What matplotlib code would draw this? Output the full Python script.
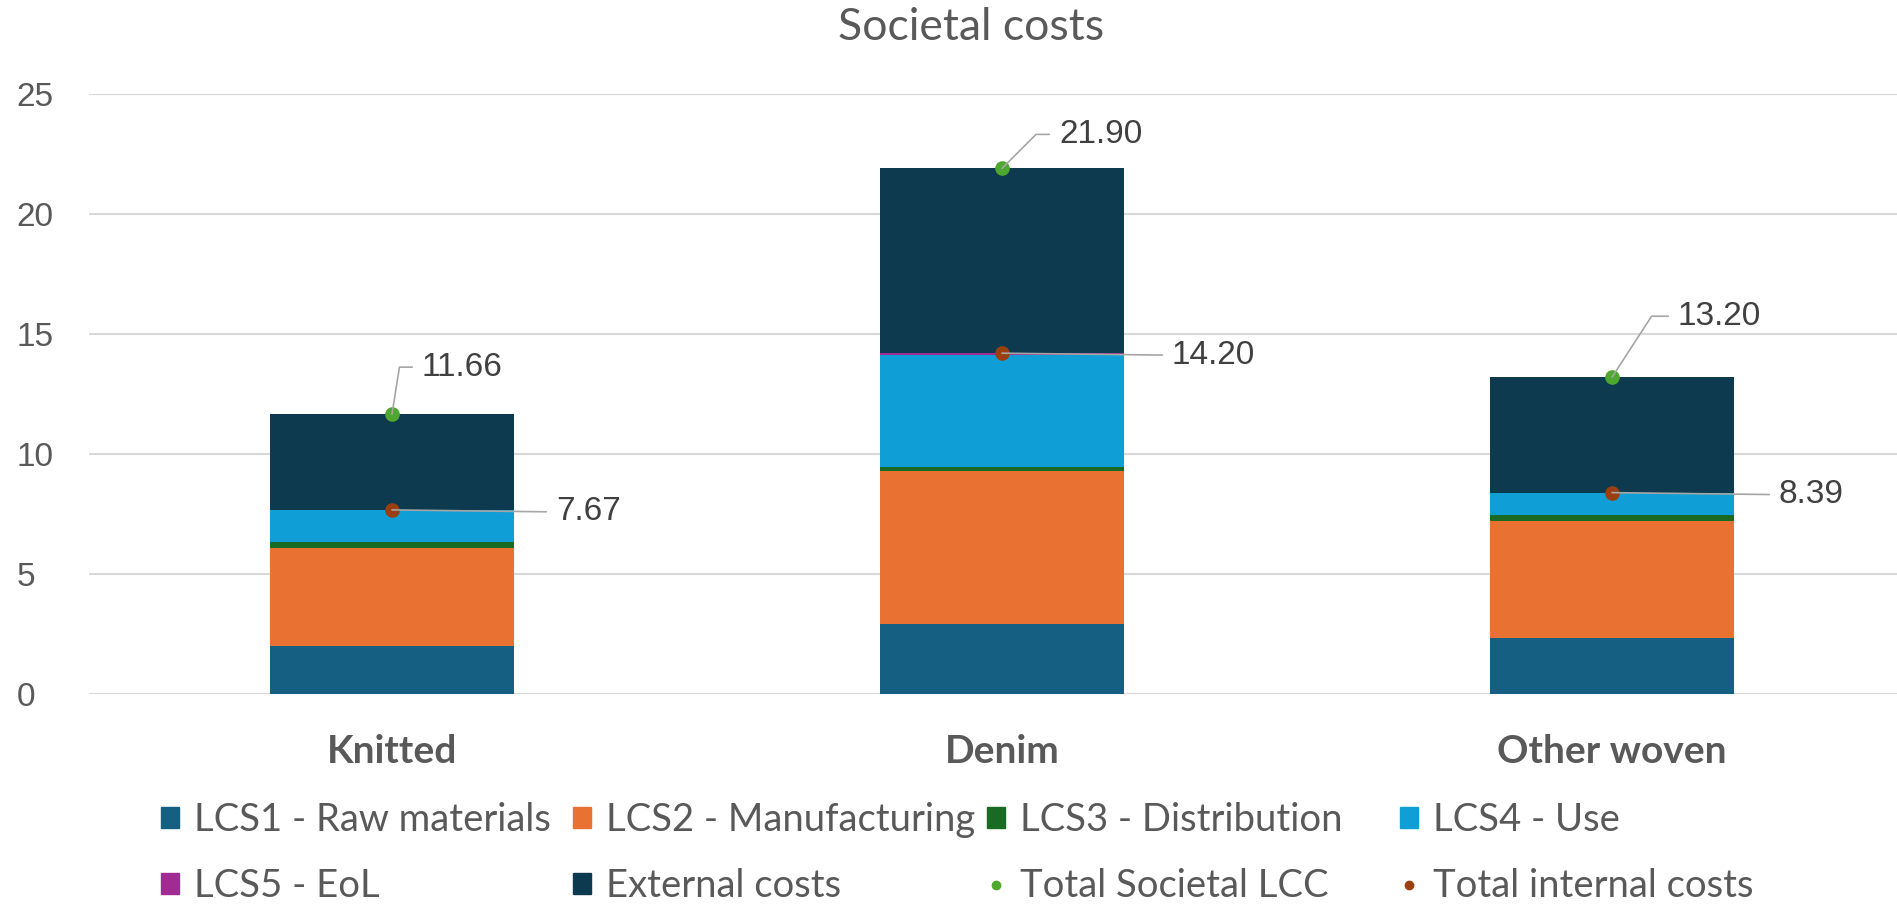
import matplotlib
matplotlib.use("Agg")
import numpy as np
import matplotlib.pyplot as plt
from matplotlib.patches import Patch
from matplotlib.lines import Line2D

categories = ["Knitted", "Denim", "Other woven"]

lcs1_raw = [2.01, 2.93, 2.35]
lcs2_manufacturing = [4.09, 6.35, 4.84]
lcs3_distribution = [0.25, 0.17, 0.25]
lcs4_use = [1.30, 4.66, 0.93]
lcs5_eol = [0.02, 0.09, 0.02]
external_costs = [3.99, 7.70, 4.81]

total_societal = [11.66, 21.90, 13.20]
total_internal = [7.67, 14.20, 8.39]

stack_names = ["LCS1 - Raw materials", "LCS2 - Manufacturing", "LCS3 - Distribution",
               "LCS4 - Use", "LCS5 - EoL", "External costs"]
stack_colors = ["#156082", "#E97132", "#196B24", "#0F9ED5", "#A02B93", "#0E3A4F"]
green = "#4EA72E"
brown = "#9C3F10"
grey_txt = "#595959"
num_font = "Liberation Sans"
txt_font = "Lato"

fig = plt.figure(figsize=(18.97, 9.11), dpi=100)
ax = fig.add_axes([89 / 1897, 217 / 911, 1 - 89 / 1897, 600 / 911])

x = np.arange(len(categories))
bottom = np.zeros(len(categories))
for vals, col in zip([lcs1_raw, lcs2_manufacturing, lcs3_distribution, lcs4_use,
                      lcs5_eol, external_costs], stack_colors):
    ax.bar(x, vals, 0.4, bottom=bottom, color=col, zorder=2)
    bottom += np.array(vals)

ax.plot(x, total_societal, "o", color=green, ms=9.5, zorder=3)
ax.plot(x, total_internal, "o", color=brown, ms=9.5, zorder=3)

# leader-line labels (offsets in pixels, angle of the slanted part)
top_offsets = [(30, 47, 81), (57, 34, 45), (66, 61, 57)]
for xi, v, (dx, dy, ang) in zip(x, total_societal, top_offsets):
    ax.annotate(f"{v:.2f}", xy=(xi, v), xytext=(dx, dy), textcoords="offset pixels",
                ha="left", va="center", fontsize=24, family=num_font, color="#404040",
                zorder=4,
                arrowprops=dict(arrowstyle="-", color="#A6A6A6", lw=1.2, patchA=None,
                                shrinkA=7, shrinkB=0, relpos=(0, 0.5),
                                connectionstyle=f"angle,angleA=0,angleB={ang},rad=0"))

mid_offsets = [164, 170, 167]
for xi, v, dx in zip(x, total_internal, mid_offsets):
    ax.annotate(f"{v:.2f}", xy=(xi, v), xytext=(dx, -2), textcoords="offset pixels",
                ha="left", va="center", fontsize=24, family=num_font, color="#404040",
                zorder=4,
                arrowprops=dict(arrowstyle="-", color="#A6A6A6", lw=1.2, patchA=None,
                                shrinkA=7, shrinkB=0, relpos=(0, 0.5)))

ax.set_xlim(-303 / 610, 1505 / 610)
ax.set_ylim(0, 25)
ax.set_yticks(np.arange(0, 26, 5))
ax.yaxis.grid(True, color="#D9D9D9", lw=1.5, zorder=0)
ax.set_axisbelow(True)
for s in ax.spines.values():
    s.set_visible(False)
ax.tick_params(axis="both", length=0)
ax.tick_params(axis="y", pad=52, labelsize=24, labelcolor=grey_txt)
for lab in ax.get_yticklabels():
    lab.set_horizontalalignment("left")
    lab.set_family(num_font)
ax.set_xticks(x)
ax.set_xticklabels(categories, fontsize=28, fontweight="bold", color=grey_txt, family=txt_font)
ax.tick_params(axis="x", pad=29)

fig.text(971.5 / 1897, 1 - 27 / 911, "Societal costs", ha="center", va="center",
         fontsize=32, color=grey_txt, family=txt_font)

# legend, four columns placed like the original
handles = [Patch(color=c) for c in stack_colors]
handles += [Line2D([], [], marker="o", ls="none", color=green, ms=6),
            Line2D([], [], marker="o", ls="none", color=brown, ms=6)]
labels = stack_names + ["Total Societal LCC", "Total internal costs"]
col_items = [(0, 4), (1, 5), (2, 6), (3, 7)]
col_x = [161, 573, 987, 1400]
for (a, b), cx in zip(col_items, col_x):
    leg = fig.legend([handles[a], handles[b]], [labels[a], labels[b]],
                     loc="center left", bbox_to_anchor=(cx / 1897, 1 - 853 / 911),
                     frameon=False, borderpad=0, borderaxespad=0,
                     handlelength=0.47, handleheight=0.47, handletextpad=0.4,
                     labelspacing=0.8, labelcolor=grey_txt,
                     prop={"family": txt_font, "size": 27.5})

fig.savefig("out.png", dpi=100)
